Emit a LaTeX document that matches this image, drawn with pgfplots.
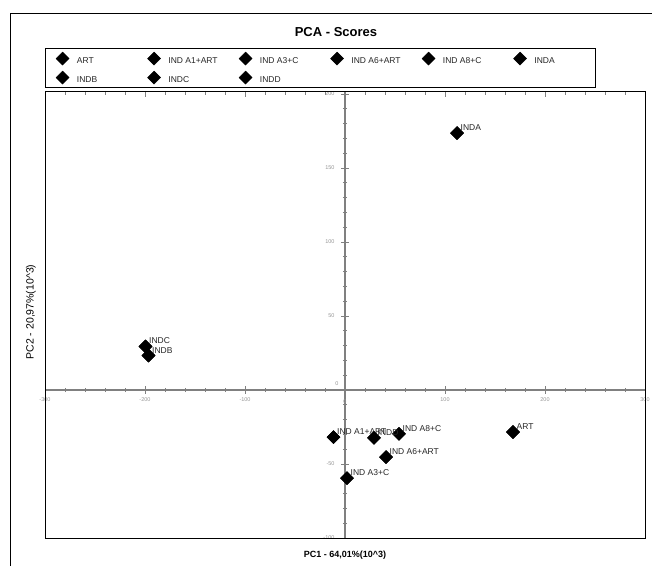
\documentclass[border=0pt]{standalone}
\usepackage{fontspec}
\setmainfont{Liberation Sans}
\usepackage{pgfplots}
\pgfplotsset{compat=1.18}
\definecolor{axgray}{RGB}{128,128,128}
\definecolor{lblgray}{RGB}{150,150,150}
\pgfplotsset{pt/.style={only marks, black, mark=square*, mark size=4.6pt,
    mark options={rotate=45, fill=black, draw=black, line width=0.4pt}}}
\newcommand{\legtxt}[1]{\makebox[58.5pt][l]{#1}}
\begin{document}
\begin{tikzpicture}[x=1pt,y=1pt]
\useasboundingbox (0,0) rectangle (652,566);
\draw[black, line width=0.8pt] (10,0) -- (10,553) -- (652,553);
\node[font=\bfseries\fontsize{13}{15}\selectfont] at (336,534) {PCA - Scores};
\node[font=\bfseries\fontsize{9}{11}\selectfont] at (345,11) {PC1 - 64,01\%(10\^{}3)};
\node[font=\fontsize{10.5}{12}\selectfont, rotate=90] at (31,254) {PC2 - 20,97\%(10\^{}3)};
% top frame ticks
\begin{axis}[
  at={(45pt,28pt)}, anchor=south west,
  width=600pt, height=447pt, scale only axis,
  xmin=-300, xmax=300, ymin=-100, ymax=202,
  axis x line*=top, axis y line=none,
  axis line style={draw=none},
  xtick={-300,-200,...,300}, minor x tick num=4,
  xticklabels={},
  tick align=inside, major tick length=6pt, minor tick length=4pt,
  tick style={axgray, line width=0.7pt},
]
\end{axis}
\begin{axis}[
  at={(45pt,28pt)}, anchor=south west,
  width=600pt, height=447pt, scale only axis,
  xmin=-300, xmax=300, ymin=-100, ymax=202,
  axis lines=middle,
  axis line style={axgray, line width=1.5pt, -},
  xtick={-300,-200,...,300}, minor x tick num=4,
  ytick={-100,-50,...,200}, minor y tick num=4,
  tick align=center, major tick length=8pt, minor tick length=4.5pt,
  tick style={axgray, line width=0.7pt},
  /pgf/number format/assume math mode=true,
  tick label style={font=\fontsize{5.5}{6}\selectfont, text=lblgray},
  yticklabel style={xshift=-3pt},
  clip=false,
  legend columns=6,
  legend cell align=left,
  legend style={at={(rel axis cs:0,1)}, anchor=south west, yshift=3pt,
    draw=black, line width=0.8pt, inner sep=0.5pt,
    font=\fontsize{8.5}{10}\selectfont, text=black!85,
    /tikz/every even column/.append style={column sep=0pt}, row sep=0pt},
  legend image code/.code={\path[draw=none, fill=none] (-16.7pt,-6.5pt) rectangle (12.3pt,12.5pt);
    \draw[only marks] plot coordinates {(0pt,3pt)};},
  every node near coord/.append style={anchor=base west, xshift=3.5pt, yshift=2.5pt,
    inner sep=0pt, font=\fontsize{8.5}{10}\selectfont, text=black!85},
]
\addplot[pt] coordinates {(168,-28.4)} ;
\addlegendentry{\legtxt{ART}}
\addplot[pt] coordinates {(-11.5,-31.8)};
\addlegendentry{\legtxt{IND A1+ART}}
\addplot[pt] coordinates {(2,-59.5)};
\addlegendentry{\legtxt{IND A3+C}}
\addplot[pt] coordinates {(41,-45.3)};
\addlegendentry{\legtxt{IND A6+ART}}
\addplot[pt] coordinates {(54,-29.7)};
\addlegendentry{\legtxt{IND A8+C}}
\addplot[pt] coordinates {(112,173.6)};
\addlegendentry{\legtxt{INDA}}
\addplot[pt] coordinates {(-196.5,23.3)};
\addlegendentry{\legtxt{INDB}}
\addplot[pt] coordinates {(-199.5,29.4)};
\addlegendentry{\legtxt{INDC}}
\addplot[pt] coordinates {(29,-32.4)};
\addlegendentry{\legtxt{INDD}}
% labels
\addplot[pt, nodes near coords={ART}, forget plot] coordinates {(168,-28.4)};
\addplot[pt, nodes near coords={IND A1+ART}, forget plot] coordinates {(-11.5,-31.8)};
\addplot[pt, nodes near coords={IND A3+C}, forget plot] coordinates {(2,-59.5)};
\addplot[pt, nodes near coords={IND A6+ART}, forget plot] coordinates {(41,-45.3)};
\addplot[pt, nodes near coords={IND A8+C}, forget plot] coordinates {(54,-29.7)};
\addplot[pt, nodes near coords={INDA}, forget plot] coordinates {(112,173.6)};
\addplot[pt, nodes near coords={INDB}, forget plot] coordinates {(-196.5,23.3)};
\addplot[pt, nodes near coords={INDC}, forget plot] coordinates {(-199.5,29.4)};
\addplot[pt, nodes near coords={INDD}, forget plot] coordinates {(29,-32.4)};
\node[font=\fontsize{5.5}{6}\selectfont, text=lblgray, anchor=north, yshift=-6pt] at (axis cs:0,0) {0};
\node[font=\fontsize{5.5}{6}\selectfont, text=lblgray, anchor=south east, xshift=-3pt, yshift=1pt] at (axis cs:0,0) {0};
\end{axis}
\draw[black, line width=0.8pt] (45,28) rectangle (645,475);
\end{tikzpicture}
\end{document}
